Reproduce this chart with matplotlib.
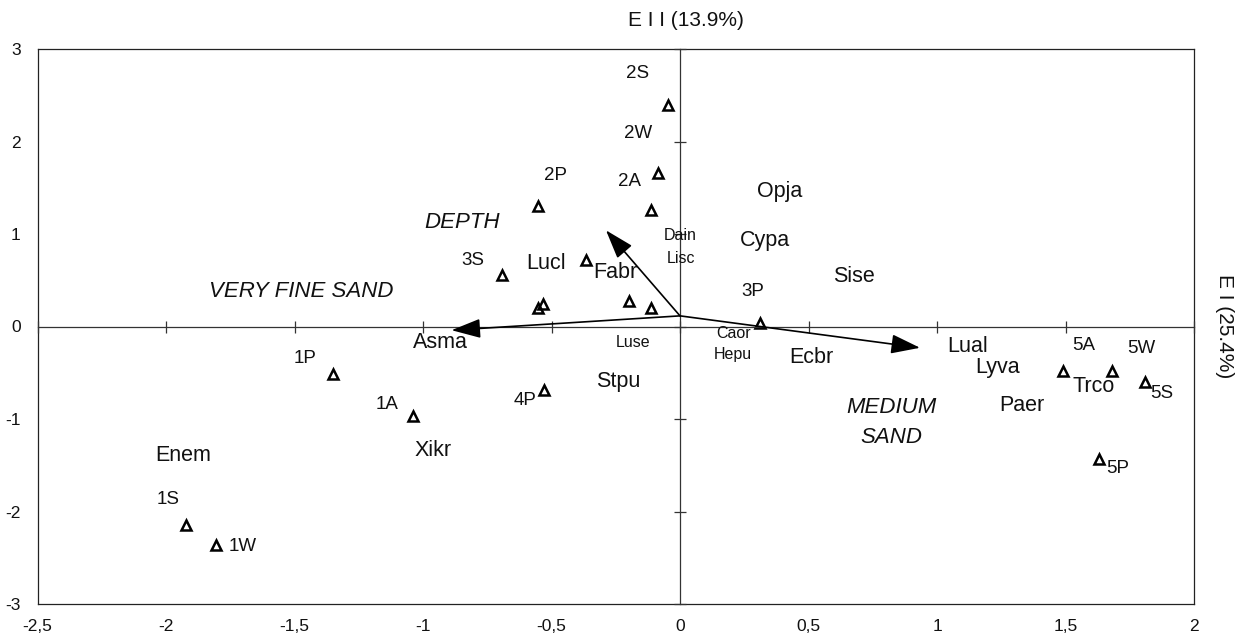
import matplotlib
matplotlib.use("Agg")
import matplotlib.pyplot as plt

plt.rcParams['font.family'] = ['Liberation Sans', 'DejaVu Sans']

# ---- data ----
x_ticks = [-2.5, -2, -1.5, -1, -0.5, 0, 0.5, 1, 1.5, 2]
x_tick_labels = ["-2,5", "-2", "-1,5", "-1", "-0,5", "0", "0,5", "1", "1,5", "2"]
y_ticks = [3, 2, 1, 0, -1, -2, -3]
y_tick_labels = ["3", "2", "1", "0", "-1", "-2", "-3"]

# sample scores (triangles)
sample_x = [-0.046, -0.084, -0.114, -0.551, -0.694, -0.367, -0.551, -0.532,
            -0.197, -0.114, 0.311, -1.349, -1.040, -0.528, -1.922, -1.805,
            1.491, 1.682, 1.809, 1.632]
sample_y = [2.39, 1.66, 1.26, 1.30, 0.555, 0.717, 0.20, 0.24,
            0.28, 0.20, 0.04, -0.51, -0.97, -0.69, -2.15, -2.36,
            -0.48, -0.48, -0.605, -1.43]

# sample labels
sample_names = ["2S", "2W", "2A", "2P", "3S", "3P", "1P", "1A", "4P", "1S", "1W",
                "5A", "5W", "5S", "5P"]
sample_label_x = [-0.165, -0.162, -0.195, -0.486, -0.808, 0.284, -1.459, -1.141,
                  -0.603, -1.99, -1.702, 1.569, 1.796, 1.874, 1.705]
sample_label_y = [2.735, 2.09, 1.57, 1.63, 0.71, 0.375, -0.346, -0.843,
                  -0.797, -1.867, -2.38, -0.209, -0.238, -0.724, -1.535]

# species scores (large labels)
species = ["Opja", "Cypa", "Sise", "Lucl", "Fabr", "Asma", "Stpu", "Xikr", "Enem",
           "Ecbr", "Lual", "Lyva", "Paer", "Trco"]
species_x = [0.388, 0.332, 0.678, -0.523, -0.253, -0.934, -0.241, -0.960, -1.933,
             0.512, 1.118, 1.237, 1.332, 1.608]
species_y = [1.46, 0.93, 0.537, 0.68, 0.584, -0.173, -0.60, -1.337, -1.39,
             -0.34, -0.22, -0.447, -0.857, -0.652]

# species scores (small labels)
species_small = ["Dain", "Lisc", "Luse", "Caor", "Hepu"]
species_small_x = [0.0, 0.004, -0.184, 0.207, 0.205]
species_small_y = [0.98, 0.74, -0.173, -0.076, -0.30]

# environmental vectors
env_names = ["VERY FINE SAND", "DEPTH", "MEDIUM\nSAND"]
env_origin = (0.0, 0.115)
env_tip_x = [-0.889, -0.288, 0.934]
env_tip_y = [-0.04, 1.04, -0.23]
env_label_x = [-1.475, -0.848, 0.822]
env_label_y = [0.375, 1.12, -1.04]

title_x = "E I I (13.9%)"
title_y = "E I (25.4%)"

# ---- figure ----
W, H = 1241, 636
fig = plt.figure(figsize=(W / 100, H / 100), dpi=100)
pos = [37.5 / W, 1 - 604 / H, (1194 - 37.5) / W, (604 - 49) / H]
ax = fig.add_axes(pos)
ax.set_xlim(-2.5, 2)
ax.set_ylim(-3, 3)
for s in ax.spines.values():
    s.set_linewidth(0.9)
    s.set_color('#222222')
ax.set_xticks(x_ticks)
ax.set_xticklabels(x_tick_labels)
ax.set_yticks(y_ticks)
ax.set_yticklabels(y_tick_labels)
ax.tick_params(axis='x', length=0, pad=11, labelsize=12.5, labelcolor='#111111')
ax.tick_params(axis='y', length=0, pad=12, labelsize=12.5, labelcolor='#111111')

# zero lines with crossing ticks
ax2 = fig.add_axes(pos, sharex=ax, sharey=ax)
ax2.patch.set_visible(False)
ax2.spines['top'].set_visible(False)
ax2.spines['right'].set_visible(False)
ax2.spines['left'].set_position(('data', 0))
ax2.spines['bottom'].set_position(('data', 0))
for k in ('left', 'bottom'):
    ax2.spines[k].set_linewidth(0.9)
    ax2.spines[k].set_color('#333333')
ax2.tick_params(direction='inout', length=8, width=0.9, color='#333333',
                labelbottom=False, labelleft=False)

# samples
ax2.plot(sample_x, sample_y, linestyle='none', marker='^', markersize=7,
         markerfacecolor='none', markeredgecolor='black', markeredgewidth=1.8)
for n, x, y in zip(sample_names, sample_label_x, sample_label_y):
    ax2.text(x, y, n, fontsize=13.5, ha='center', va='center', color='#111111')

for n, x, y in zip(species, species_x, species_y):
    ax2.text(x, y, n, fontsize=15.5, ha='center', va='center', color='#111111')
for n, x, y in zip(species_small, species_small_x, species_small_y):
    ax2.text(x, y, n, fontsize=11.5, ha='center', va='center', color='#111111')

# environmental arrows
for n, tx, ty, lx, ly in zip(env_names, env_tip_x, env_tip_y, env_label_x, env_label_y):
    ax2.annotate("", xy=(tx, ty), xytext=env_origin,
                 arrowprops=dict(arrowstyle='-|>,head_length=1.2,head_width=0.4',
                                 color='black', lw=1.2, mutation_scale=15,
                                 shrinkA=0, shrinkB=0))
    ax2.text(lx, ly, n, fontsize=16, style='italic', ha='center', va='center',
             color='#111111', linespacing=1.55)

t1 = ax2.text(0.025, 3 + 29 / 92.5, title_x, fontsize=15, ha='center', va='center',
              color='#111111')
t2 = ax2.text(1 + 21 / (1194 - 37.5), 0.5, title_y, fontsize=15, rotation=270,
              ha='left', va='center', transform=ax2.transAxes, color='#111111')
for t in (t1, t2):
    t.set_clip_on(False)

fig.savefig("out.png", dpi=100, facecolor='white')
